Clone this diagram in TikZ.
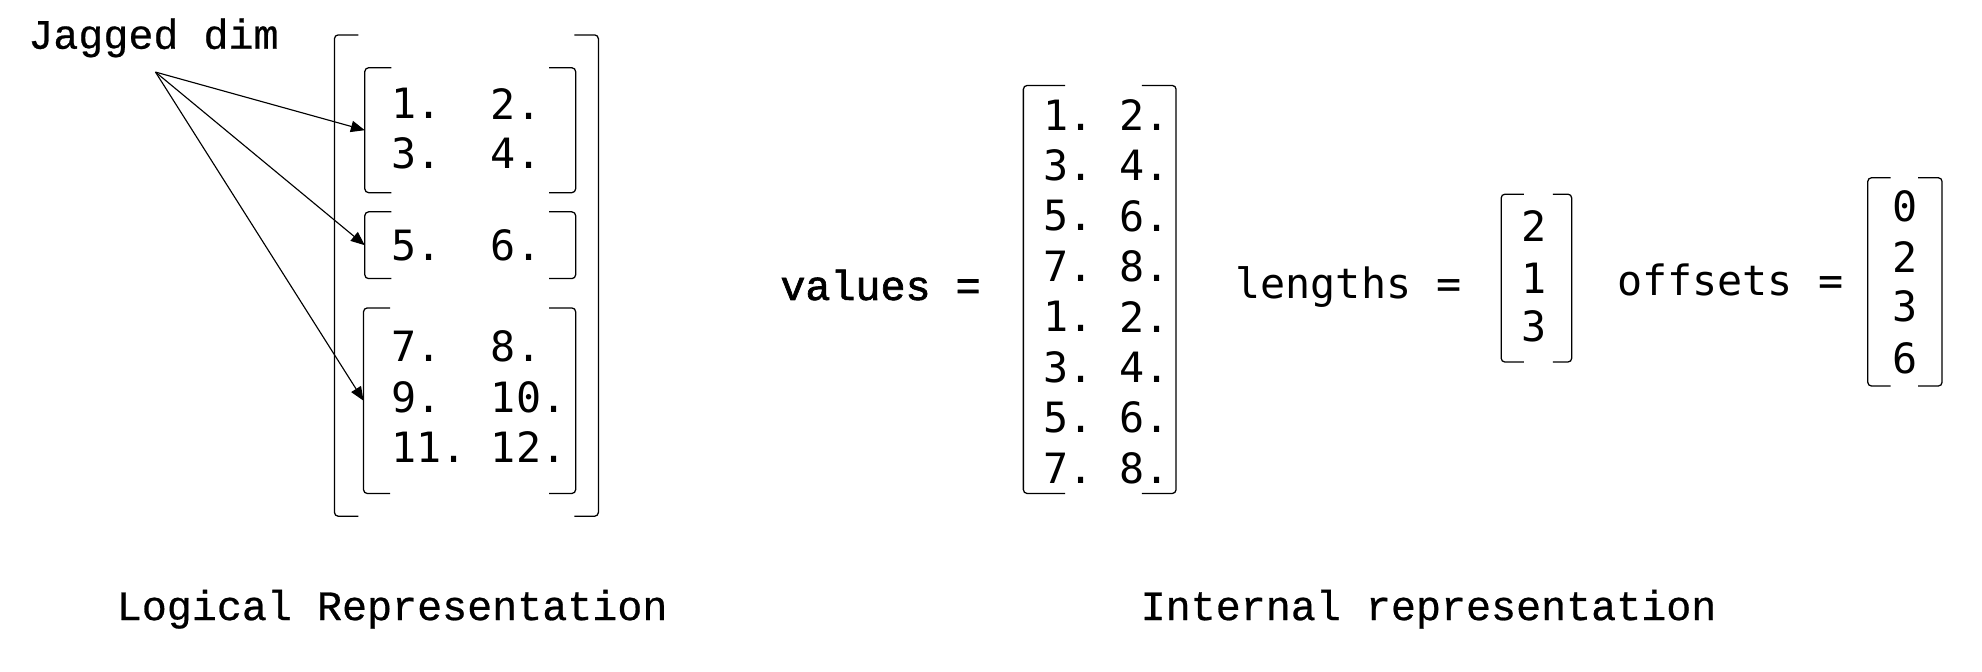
\documentclass[tikz,border=0pt]{standalone}
\usepackage{fontspec}
\newfontfamily\jlabfont[FakeBold=0.6]{Liberation Mono}
\newfontfamily\jvalfont[FakeBold=1.6]{Liberation Mono}
\newfontfamily\jnumfont{DejaVu Sans Mono}
\usetikzlibrary{arrows.meta}
\newcommand\mybrackets[3]{%
  \draw[brk] ([xshift=#2]#1.north west) -- (#1.north west) -- (#1.south west) -- ([xshift=#2]#1.south west);
  \draw[brk] ([xshift=-#3]#1.north east) -- (#1.north east) -- (#1.south east) -- ([xshift=-#3]#1.south east);}
\begin{document}
\begin{tikzpicture}[x=0.5pt,y=-0.5pt,
  lbl/.style={inner sep=0pt, anchor=west, font=\jlabfont\fontsize{16.5}{20}\selectfont},
  num/.style={inner sep=0pt, anchor=west, font=\jnumfont\fontsize{16.5}{20}\selectfont},
  numc/.style={inner sep=0pt, font=\jnumfont\fontsize{16.5}{20}\selectfont},
  mbox/.style={inner sep=0pt, draw=none, rectangle},
  brk/.style={line width=0.5pt, rounded corners=1.5pt},
  conn/.style={line width=0.45pt, -{Triangle[length=5.5pt,width=4.5pt]}}
]
\useasboundingbox (0,0) rectangle (1568,531.6);

% labels
\node[lbl] (jd) at (22,30) {Jagged dim};
\coordinate (jdsrc) at (123,57);
\node[lbl] (logical) at (92,482) {Logical Representation};
\node[lbl] (internal) at (902,482) {Internal representation};
\node[lbl, font=\jvalfont\fontsize{16.5}{20}\selectfont] (vallbl) at (617,225.5) {values =};
\node[num] (lenlbl) at (977,227) {lengths =};
\node[num] (offlbl) at (1279,221.5) {offsets =};

% matrix boxes
\node[mbox, minimum width=104pt, minimum height=190pt] (outer) at (369,218) {};
\node[mbox, minimum width=83pt, minimum height=49pt] (in1) at (372,103) {};
\node[mbox, minimum width=83pt, minimum height=26pt] (in2) at (372,194) {};
\node[mbox, minimum width=83.5pt, minimum height=73pt] (in3) at (371.5,317) {};
\node[mbox, minimum width=60pt, minimum height=161pt] (vals) at (870,229) {};
\node[mbox, minimum width=27.5pt, minimum height=66pt] (lens) at (1215.5,220) {};
\node[mbox, minimum width=29pt, minimum height=82pt] (offs) at (1507,223) {};

\mybrackets{outer}{9.5pt}{9.5pt}
\mybrackets{in1}{10.5pt}{10.5pt}
\mybrackets{in2}{10.5pt}{10.5pt}
\mybrackets{in3}{10.5pt}{10.5pt}
\mybrackets{vals}{16.5pt}{13.5pt}
\mybrackets{lens}{9pt}{7.5pt}
\mybrackets{offs}{9pt}{9.5pt}

% logical matrix entries
\node[num] (a1) at (309,82) {1.};
\node[num] (a2) at (388,82) {2.};
\node[num] (a3) at (309,121) {3.};
\node[num] (a4) at (388,121) {4.};
\node[num] (a5) at (309,194) {5.};
\node[num] (a6) at (388,194) {6.};
\node[num] (a7) at (309,274) {7.};
\node[num] (a8) at (388,274) {8.};
\node[num] (a9) at (309,314) {9.};
\node[num] (a10) at (388,314) {10.};
\node[num] (a11) at (309,354) {11.};
\node[num] (a12) at (388,354) {12.};

% values entries
\foreach \i/\p/\q in {0/1/2,1/3/4,2/5/6,3/7/8,4/1/2,5/3/4,6/5/6,7/7/8}{
  \node[num] (v\i a) at (825,91+39.9*\i) {\p.};
  \node[num] (v\i b) at (885,91+39.9*\i) {\q.};
}
% lengths entries
\node[numc] (l1) at (1214,179) {2};
\node[numc] (l2) at (1214,220) {1};
\node[numc] (l3) at (1214,258.5) {3};
% offsets entries
\node[numc] (o1) at (1507,163.5) {0};
\node[numc] (o2) at (1507,203) {2};
\node[numc] (o3) at (1507,242.6) {3};
\node[numc] (o4) at (1507,283.5) {6};

% arrows
\draw[conn] (jdsrc) -- (in1.west);
\draw[conn] (jdsrc) -- (in2.west);
\draw[conn] (jdsrc) -- (in3.west);
\end{tikzpicture}
\end{document}
